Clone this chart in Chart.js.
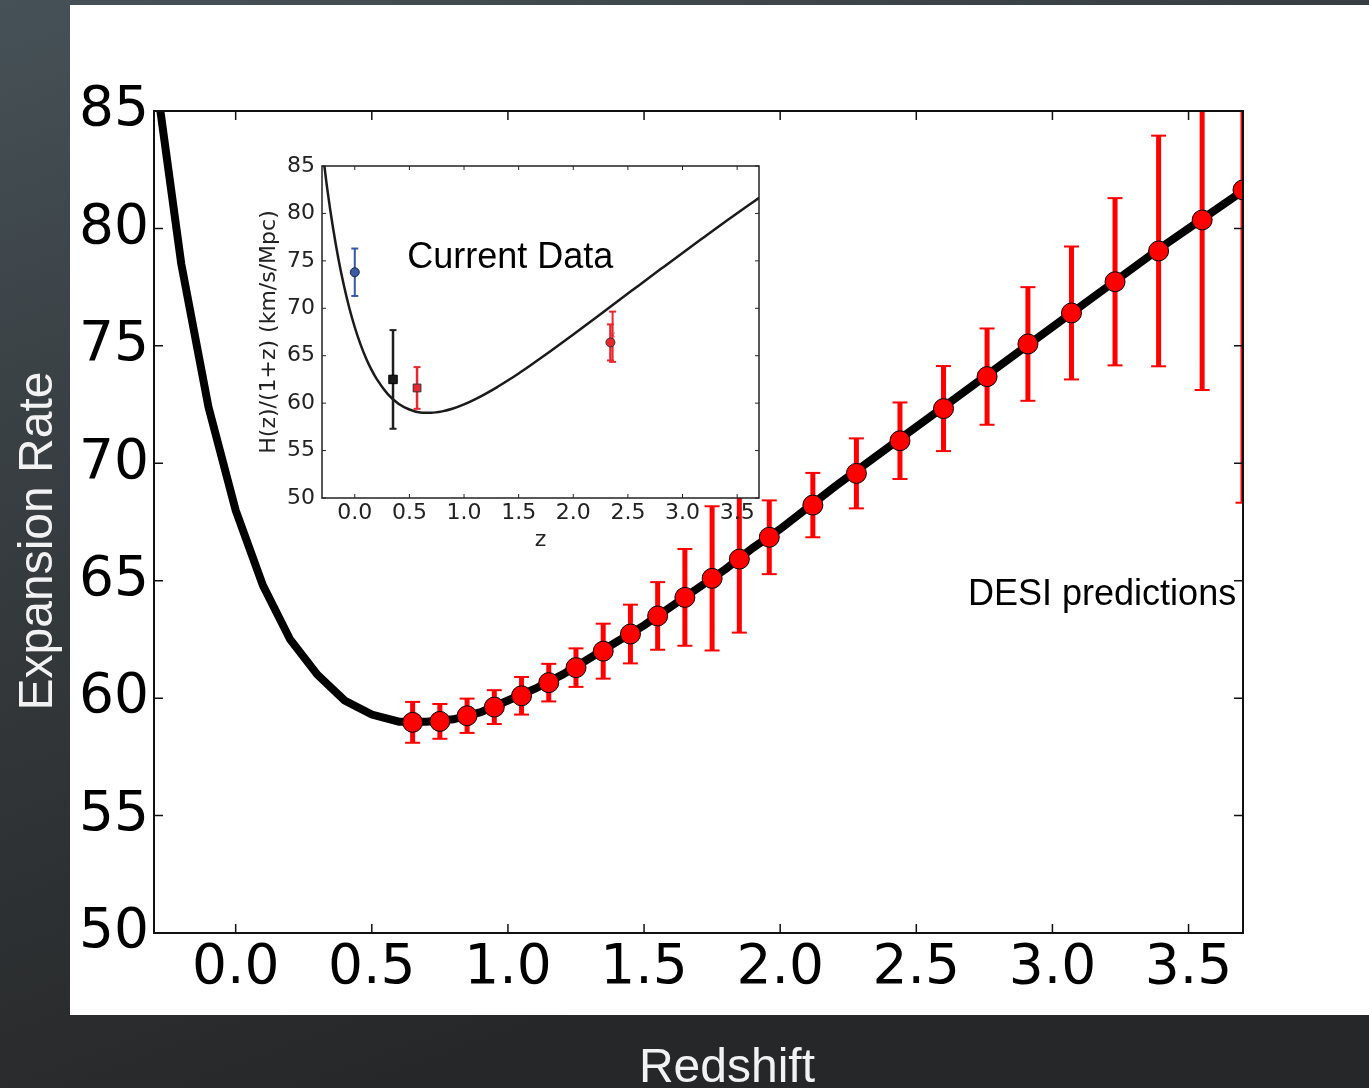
<!DOCTYPE html>
<html>
<head>
<meta charset="utf-8">
<script src="https://cdn.jsdelivr.net/npm/chart.js@4.4.1/dist/chart.umd.min.js"></script>
<style>
  html, body { margin: 0; padding: 0; background: #26292c; }
  #wrap { position: relative; width: 1369px; height: 1088px; overflow: hidden; }
  #mainChart { position: absolute; left: 0; top: 0; }
  #insetChart { position: absolute; left: 240px; top: 140px; }
</style>
</head>
<body>
<div id="wrap">
  <canvas id="mainChart" width="1369" height="1088"></canvas>
  <canvas id="insetChart" width="540" height="420"></canvas>
</div>
<script>
// --- Data ---

// model curve in the big panel
const curveZ = [-0.3, -0.2, -0.1, 0.0, 0.1, 0.2, 0.3, 0.4, 0.5, 0.6, 0.7, 0.8, 0.9, 1.0, 1.1, 1.2, 1.3, 1.4, 1.5, 1.6, 1.7, 1.8, 1.9, 2.0, 2.2, 2.4, 2.6, 2.8, 3.0, 3.2, 3.4, 3.6, 3.7];
const curveH = [87.0, 78.5, 72.4, 68.0, 64.8, 62.5, 61.0, 59.9, 59.3, 59.0, 59.0, 59.1, 59.4, 59.9, 60.4, 61.0, 61.7, 62.4, 63.1, 63.9, 64.7, 65.5, 66.4, 67.2, 69.0, 70.7, 72.4, 74.1, 75.8, 77.5, 79.2, 80.8, 81.6];

// DESI predicted points (centre and half error)
const desiZ   = [0.65, 0.75, 0.85, 0.95, 1.05, 1.15, 1.25, 1.35, 1.45, 1.55, 1.65, 1.75, 1.85, 1.96, 2.12, 2.28, 2.44, 2.60, 2.76, 2.91, 3.07, 3.23, 3.39, 3.55, 3.70];
const desiH   = [58.97, 59.01, 59.25, 59.62, 60.10, 60.66, 61.30, 62.00, 62.73, 63.50, 64.29, 65.10, 65.92, 66.85, 68.22, 69.57, 70.96, 72.33, 73.69, 75.08, 76.40, 77.73, 79.04, 80.36, 81.64];
const desiErr = [0.87, 0.74, 0.73, 0.72, 0.80, 0.80, 0.82, 1.17, 1.25, 1.44, 2.06, 3.07, 3.13, 1.57, 1.37, 1.49, 1.63, 1.81, 2.05, 2.42, 2.83, 3.56, 4.91, 7.24, 13.32];

// inset: same model, smoother sampling
const insetCurveZ = [-0.3, -0.25, -0.2, -0.15, -0.1, -0.05, 0.0, 0.05, 0.1, 0.15, 0.2, 0.3, 0.4, 0.5, 0.6, 0.7, 0.8, 0.9, 1.0, 1.1, 1.2, 1.3, 1.4, 1.5, 1.6, 1.7, 1.8, 1.9, 2.0, 2.2, 2.4, 2.6, 2.8, 3.0, 3.2, 3.4, 3.6, 3.7];
const insetCurveH = [87.04, 82.43, 78.54, 75.23, 72.42, 70.03, 68.00, 66.28, 64.82, 63.58, 62.55, 60.98, 59.94, 59.33, 59.02, 58.98, 59.13, 59.43, 59.86, 60.39, 61.00, 61.66, 62.38, 63.13, 63.92, 64.73, 65.55, 66.39, 67.24, 68.96, 70.69, 72.41, 74.13, 75.84, 77.52, 79.19, 80.83, 81.64];

// inset: current measurements
const localZ = [0.0],  localH = [73.8],  localErr = [2.5];
const galZ   = [0.35], galH   = [62.5],  galErr   = [5.2];
const bossZ  = [0.57], bossH  = [61.6],  bossErr  = [2.2];
const lyaZ   = [2.34], lyaH   = [66.4],  lyaErr   = [1.9];
const lyxZ   = [2.36], lyxH   = [67.0],  lyxErr   = [2.65];
const lyxMark = [67.2];

// ticks
const mainXTicks = [0.0, 0.5, 1.0, 1.5, 2.0, 2.5, 3.0, 3.5];
const mainXLabels = ['0.0', '0.5', '1.0', '1.5', '2.0', '2.5', '3.0', '3.5'];
const yTicks = [50, 55, 60, 65, 70, 75, 80, 85];
const yLabels = ['50', '55', '60', '65', '70', '75', '80', '85'];

// --- Helpers ---

function pts(zs, hs) {
    return zs.map((z, i) => ({ x: z, y: hs[i] }));
}

// vertical error bar segments, broken by nulls
function errSegments(zs, hs, es) {
    const out = [];
    zs.forEach((z, i) => {
        out.push({ x: z, y: hs[i] - es[i] }, { x: z, y: hs[i] + es[i] }, { x: z, y: null });
    });
    return out;
}

function errCaps(zs, hs, es) {
    const out = [];
    zs.forEach((z, i) => {
        out.push({ x: z, y: hs[i] - es[i] }, { x: z, y: hs[i] + es[i] });
    });
    return out;
}

function errorBarSets(zs, hs, es, color, width, capRadius, capWidth, order) {
    return [{
        data: errSegments(zs, hs, es),
        borderColor: color, borderWidth: width, borderCapStyle: 'butt',
        pointRadius: 0, spanGaps: false, clip: 0, order: order
    }, {
        data: errCaps(zs, hs, es),
        showLine: false, pointStyle: 'line', pointRadius: capRadius,
        pointBorderWidth: capWidth, pointBorderColor: color, clip: 0, order: order - 1
    }];
}

// inward ticks on all four sides plus the box
function frameTicks(len, tickW, frameW, color) {
    return {
        id: 'frameTicks',
        afterDraw(chart) {
            const { ctx, chartArea: a, scales: { x, y } } = chart;
            ctx.save();
            ctx.strokeStyle = color;
            ctx.lineWidth = tickW;
            ctx.beginPath();
            x.ticks.forEach(t => {
                const px = x.getPixelForValue(t.value);
                ctx.moveTo(px, a.bottom); ctx.lineTo(px, a.bottom - len);
                ctx.moveTo(px, a.top); ctx.lineTo(px, a.top + len);
            });
            y.ticks.forEach(t => {
                const py = y.getPixelForValue(t.value);
                ctx.moveTo(a.left, py); ctx.lineTo(a.left + len, py);
                ctx.moveTo(a.right, py); ctx.lineTo(a.right - len, py);
            });
            ctx.stroke();
            ctx.lineWidth = frameW;
            ctx.strokeRect(a.left, a.top, a.right - a.left, a.bottom - a.top);
            ctx.restore();
        }
    };
}

// slide background, white panel, titles and the label
const slide = {
    id: 'slide',
    beforeDraw(chart) {
        const ctx = chart.ctx;
        const g = ctx.createLinearGradient(0, 0, 400, chart.height);
        g.addColorStop(0, '#465157');
        g.addColorStop(0.5, '#34393c');
        g.addColorStop(1, '#262728');
        ctx.save();
        ctx.fillStyle = g;
        ctx.fillRect(0, 0, chart.width, chart.height);
        ctx.fillStyle = '#ffffff';
        ctx.fillRect(70, 5, chart.width - 70, 1010);
        ctx.restore();
    },
    afterDraw(chart) {
        const { ctx, scales: { x, y } } = chart;
        ctx.save();
        ctx.fillStyle = '#000';
        ctx.font = '36px "Liberation Sans", Arial, sans-serif';
        ctx.textAlign = 'left';
        ctx.textBaseline = 'middle';
        ctx.fillText('DESI predictions', x.getPixelForValue(2.69), y.getPixelForValue(64.38));

        ctx.fillStyle = '#f2f2f2';
        ctx.font = '48px "Liberation Sans", Arial, sans-serif';
        ctx.textAlign = 'center';
        ctx.textBaseline = 'alphabetic';
        ctx.fillText('Redshift', 727, 1082);
        ctx.translate(52, 541);
        ctx.rotate(-Math.PI / 2);
        ctx.fillText('Expansion Rate', 0, 0);
        ctx.restore();
    }
};

// --- Main chart ---

new Chart(document.getElementById('mainChart'), {
    type: 'line',
    data: {
        datasets: [
            {
                data: pts(desiZ, desiH), showLine: false,
                pointRadius: 10, pointBackgroundColor: '#ff0000',
                pointBorderColor: '#000', pointBorderWidth: 1, clip: 0, order: 0
            },
            ...errorBarSets(desiZ, desiH, desiErr, '#ff0000', 5, 7.5, 2, 3),
            {
                data: pts(curveZ, curveH), borderColor: '#000', borderWidth: 8,
                pointRadius: 0, tension: 0, clip: 0, order: 5
            }
        ]
    },
    options: {
        responsive: false,
        animation: false,
        layout: { padding: { left: 0, top: 111, right: 126, bottom: 0 } },
        plugins: { legend: { display: false }, tooltip: { enabled: false } },
        scales: {
            x: {
                type: 'linear', min: -0.3, max: 3.7,
                afterBuildTicks: s => { s.ticks = mainXTicks.map(v => ({ value: v })); },
                afterFit: s => { s.height = 155; },
                grid: { display: false, drawTicks: false },
                border: { display: false },
                ticks: {
                    autoSkip: false, maxRotation: 0, padding: 8, color: '#000',
                    font: { family: 'DejaVu Sans', size: 55, lineHeight: 1 },
                    callback: (v, i) => mainXLabels[i]
                }
            },
            y: {
                type: 'linear', min: 50, max: 85,
                afterBuildTicks: s => { s.ticks = yTicks.map(v => ({ value: v })); },
                afterFit: s => { s.width = 154; },
                grid: { display: false, drawTicks: false },
                border: { display: false },
                ticks: {
                    autoSkip: false, padding: 5, color: '#000',
                    font: { family: 'DejaVu Sans', size: 55, lineHeight: 1 },
                    callback: (v, i) => yLabels[i]
                }
            }
        }
    },
    plugins: [slide, frameTicks(9, 1.5, 2, '#111')]
});

// --- Inset chart ---

const insetPanel = {
    id: 'insetPanel',
    beforeDraw(chart) {
        const { ctx, chartArea: a } = chart;
        ctx.save();
        ctx.fillStyle = '#ffffff';
        ctx.fillRect(a.left, a.top, a.right - a.left, a.bottom - a.top);
        ctx.restore();
    },
    afterDatasetsDraw(chart) {
        const { ctx, scales: { x, y } } = chart;
        ctx.save();
        ctx.fillStyle = '#000';
        ctx.font = '36px "Liberation Sans", Arial, sans-serif';
        ctx.textAlign = 'left';
        ctx.textBaseline = 'middle';
        ctx.fillText('Current Data', x.getPixelForValue(0.48), y.getPixelForValue(75.3));
        ctx.restore();
    }
};

new Chart(document.getElementById('insetChart'), {
    type: 'line',
    data: {
        datasets: [
            {
                data: pts(localZ, localH), showLine: false, pointRadius: 4.5,
                pointBackgroundColor: '#3b5ba5', pointBorderColor: '#1b2a4a', pointBorderWidth: 1, order: 0
            },
            {
                data: pts(galZ, galH), showLine: false, pointStyle: 'rect', pointRadius: 6,
                pointBackgroundColor: '#1a1a1a', pointBorderColor: '#000', pointBorderWidth: 1, order: 0
            },
            {
                data: pts(bossZ, bossH), showLine: false, pointStyle: 'rect', pointRadius: 5.5,
                pointBackgroundColor: '#e8282e', pointBorderColor: '#333', pointBorderWidth: 1, order: 0
            },
            {
                data: pts(lyaZ, lyaH), showLine: false, pointRadius: 4.5,
                pointBackgroundColor: '#e8282e', pointBorderColor: '#333', pointBorderWidth: 1, order: 0
            },
            {
                data: pts(lyxZ, lyxMark), showLine: false, pointStyle: 'crossRot', pointRadius: 3,
                pointBorderColor: '#e8282e', pointBorderWidth: 1, order: 0
            },
            ...errorBarSets(localZ, localH, localErr, '#3557a7', 2, 3.5, 2, 3),
            ...errorBarSets(galZ, galH, galErr, '#1e1e1e', 2.5, 3.5, 2, 3),
            ...errorBarSets(bossZ, bossH, bossErr, '#e8282e', 2.5, 3.5, 2, 3),
            ...errorBarSets(lyaZ, lyaH, lyaErr, '#e8282e', 2.5, 3.5, 2, 3),
            ...errorBarSets(lyxZ, lyxH, lyxErr, '#e8282e', 2, 3.5, 2, 3),
            {
                data: pts(insetCurveZ, insetCurveH), borderColor: '#1a1a1a', borderWidth: 2.5,
                pointRadius: 0, cubicInterpolationMode: 'monotone', clip: 0, order: 5
            }
        ]
    },
    options: {
        responsive: false,
        animation: false,
        layout: { padding: { left: 0, top: 26, right: 21, bottom: 0 } },
        plugins: { legend: { display: false }, tooltip: { enabled: false } },
        scales: {
            x: {
                type: 'linear', min: -0.3, max: 3.7,
                afterBuildTicks: s => { s.ticks = mainXTicks.map(v => ({ value: v })); },
                afterFit: s => { s.height = 62; },
                grid: { display: false, drawTicks: false },
                border: { display: false },
                title: {
                    display: true, text: 'z', color: '#222',
                    font: { family: 'DejaVu Sans', size: 22, lineHeight: 1 },
                    padding: { top: 0, bottom: 9 }
                },
                ticks: {
                    autoSkip: false, maxRotation: 0, padding: 4, color: '#222',
                    font: { family: 'DejaVu Sans', size: 22, lineHeight: 1 },
                    callback: (v, i) => mainXLabels[i]
                }
            },
            y: {
                type: 'linear', min: 50, max: 85,
                afterBuildTicks: s => { s.ticks = yTicks.map(v => ({ value: v })); },
                afterFit: s => { s.width = 82; },
                grid: { display: false, drawTicks: false },
                border: { display: false },
                title: {
                    display: true, text: 'H(z)/(1+z) (km/s/Mpc)', color: '#222',
                    font: { family: 'DejaVu Sans', size: 22, lineHeight: 1 },
                    padding: { top: 18, bottom: 0 }
                },
                ticks: {
                    autoSkip: false, padding: 7, color: '#222',
                    font: { family: 'DejaVu Sans', size: 22, lineHeight: 1 },
                    callback: (v, i) => yLabels[i]
                }
            }
        }
    },
    plugins: [insetPanel, frameTicks(4, 1, 1.5, '#222')]
});
</script>
</body>
</html>
